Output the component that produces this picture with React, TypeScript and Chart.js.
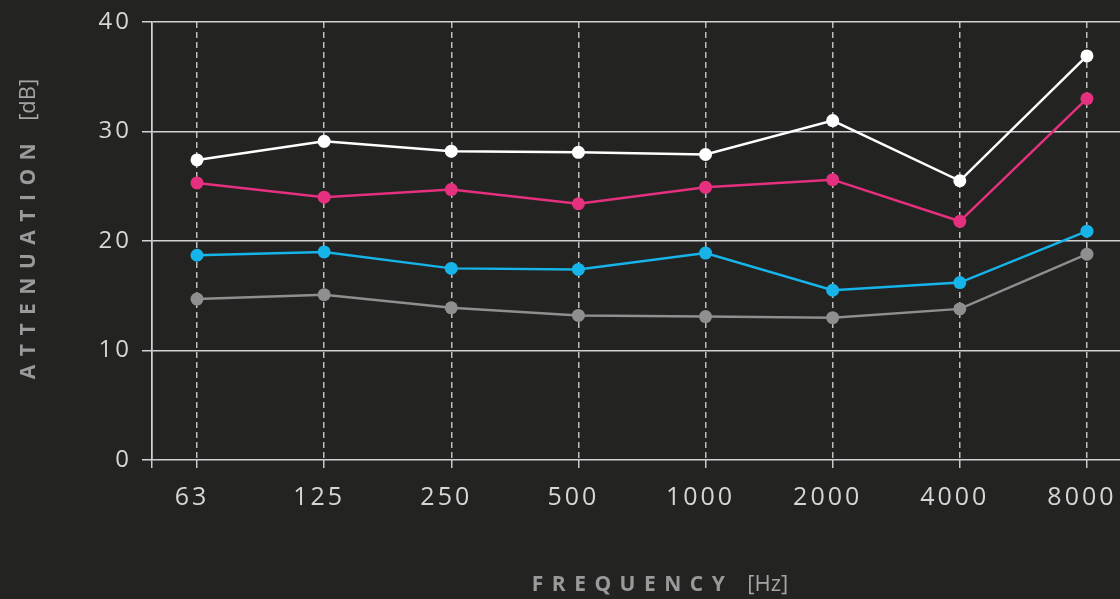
import React, { useEffect, useRef } from "react";
import { Chart, registerables } from "chart.js";

Chart.register(...registerables);

const frequencies = ["63", "125", "250", "500", "1000", "2000", "4000", "8000"];
const seriesWhite = [27.4, 29.1, 28.2, 28.1, 27.9, 31.0, 25.5, 36.9];
const seriesPink = [25.3, 24.0, 24.7, 23.4, 24.9, 25.6, 21.8, 33.0];
const seriesBlue = [18.7, 19.0, 17.5, 17.4, 18.9, 15.5, 16.2, 20.9];
const seriesGray = [14.7, 15.1, 13.9, 13.2, 13.1, 13.0, 13.8, 18.8];
const yTicks = [0, 10, 20, 30, 40];

const BG = "#232322";

const titlesPlugin = {
  id: "axisTitles",
  afterDraw(chart: any) {
    const ctx = chart.ctx as CanvasRenderingContext2D;
    (ctx as any).letterSpacing = "0px";
    ctx.save();
    const boldFont = "bold 21px 'Open Sans'";
    const regFont = "22px 'Open Sans'";
    const spacing = "8.5px";
    const gap = 14;
    ctx.textBaseline = "alphabetic";
    ctx.textAlign = "left";

    const measure = (t: string, font: string, ls: string) => {
      ctx.font = font;
      (ctx as any).letterSpacing = ls;
      return ctx.measureText(t).width;
    };
    const draw = (t: string, x: number, y: number, font: string, ls: string, color: string) => {
      ctx.font = font;
      (ctx as any).letterSpacing = ls;
      ctx.fillStyle = color;
      ctx.fillText(t, x, y);
    };

    // X title
    const t1 = "FREQUENCY";
    const t2 = "[Hz]";
    const w1 = measure(t1, boldFont, spacing);
    const w2 = measure(t2, regFont, "0px");
    const x0 = 660 - (w1 + gap + w2) / 2;
    draw(t1, x0, 591, boldFont, spacing, "#9a9a9a");
    draw(t2, x0 + w1 + gap, 591, regFont, "0px", "#a5a5a5");

    // Y title (rotated)
    ctx.translate(35, 0);
    ctx.rotate(-Math.PI / 2);
    const a1 = "ATTENUATION";
    const a2 = "[dB]";
    const aw1 = measure(a1, boldFont, spacing);
    const aw2 = measure(a2, regFont, "0px");
    const sx = -(229 + (aw1 + gap + aw2) / 2);
    draw(a1, sx, 0, boldFont, spacing, "#9a9a9a");
    draw(a2, sx + aw1 + gap, 0, regFont, "0px", "#a5a5a5");
    ctx.restore();
  },
};

const bgPlugin = {
  id: "bg",
  beforeDraw(chart: any) {
    const ctx = chart.ctx;
    ctx.save();
    ctx.fillStyle = BG;
    ctx.fillRect(0, 0, chart.width, chart.height);
    ctx.restore();
    (ctx as any).letterSpacing = "3px";
  },
};

export default function App() {
  const ref = useRef<HTMLCanvasElement>(null);
  useEffect(() => {
    document.body.style.margin = "0";
    document.body.style.background = BG;
    const mk = (label: string, data: number[], color: string) => ({
      label,
      data: data.map((v, i) => ({ x: i, y: v })),
      borderColor: color,
      backgroundColor: color,
      borderWidth: 2.5,
      pointRadius: 6.5,
      pointBorderWidth: 0,
      pointBackgroundColor: color,
      tension: 0,
    });
    const xMin = -0.354;
    const chart = new Chart(ref.current!, {
      type: "line",
      data: {
        datasets: [
          mk("white", seriesWhite, "#ffffff"),
          mk("pink", seriesPink, "#e5307f"),
          mk("blue", seriesBlue, "#16b4e8"),
          mk("gray", seriesGray, "#8f8f8f"),
        ],
      },
      options: {
        animation: false,
        responsive: false,
        layout: { autoPadding: false, padding: { top: 22, left: 0, right: 0, bottom: 0 } },
        plugins: { legend: { display: false }, tooltip: { enabled: false } },
        scales: {
          x: {
            type: "linear",
            min: xMin,
            max: 7.26,
            afterBuildTicks: (axis: any) => {
              axis.ticks = [{ value: xMin }, ...frequencies.map((_, i) => ({ value: i }))];
            },
            afterFit: (axis: any) => {
              axis.height = 139;
              axis.paddingLeft = 0;
              axis.paddingRight = 0;
            },
            ticks: {
              autoSkip: false,
              maxRotation: 0,
              padding: 15,
              labelOffset: -5,
              color: "#d6d6d6",
              font: { family: "'Open Sans'", size: 25 },
              callback: (v: any) => {
                const i = Number(v);
                return Number.isInteger(i) && frequencies[i] !== undefined ? frequencies[i] : "";
              },
            },
            grid: {
              color: (c: any) => (c.tick && c.tick.value === xMin ? "#d0d0d0" : "#bdbdbd"),
              lineWidth: 1.5,
              tickLength: 8,
              tickColor: "#c8c8c8",
              tickWidth: 1.5,
            },
            border: {
              display: false,
              dash: (c: any) => (c.tick && c.tick.value === xMin ? [] : [6, 4]),
            },
          },
          y: {
            min: 0,
            max: 40,
            afterBuildTicks: (axis: any) => {
              axis.ticks = yTicks.map((v) => ({ value: v }));
            },
            afterFit: (axis: any) => {
              axis.width = 152;
              axis.paddingTop = 0;
              axis.paddingBottom = 0;
            },
            ticks: {
              padding: 10,
              color: "#d6d6d6",
              font: { family: "'Open Sans'", size: 24 },
            },
            grid: {
              color: "#d2d2d2",
              lineWidth: 1.5,
              tickLength: 10,
              tickColor: "#d2d2d2",
              tickWidth: 1.5,
            },
            border: { display: true, color: "#d2d2d2", width: 1.5 },
          },
        },
      },
      plugins: [bgPlugin, titlesPlugin],
    });
    return () => chart.destroy();
  }, []);
  return (
    <div style={{ position: "fixed", left: 0, top: 0, width: 1120, height: 599, background: BG }}>
      <canvas ref={ref} width={1120} height={599} />
    </div>
  );
}
